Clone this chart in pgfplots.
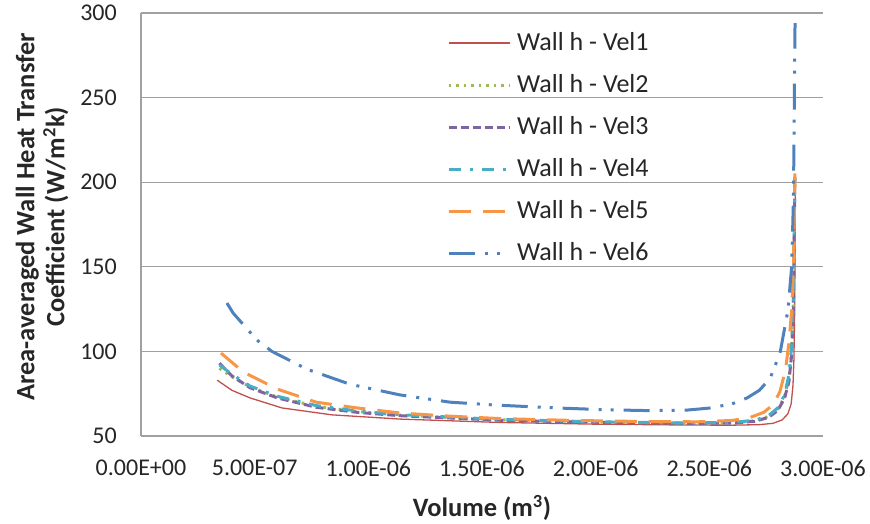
\documentclass[border=0pt]{standalone}
\usepackage{fontspec}
\setmainfont{Carlito}
\usepackage{pgfplots}
\pgfplotsset{compat=1.18}
\usepackage{pgfplotstable}
\definecolor{cRed}{HTML}{C0504D}
\definecolor{cGreen}{HTML}{9BBB59}
\definecolor{cPurple}{HTML}{8064A2}
\definecolor{cTeal}{HTML}{4BACC6}
\definecolor{cOrange}{HTML}{F79646}
\definecolor{cBlue}{HTML}{4F81BD}
\definecolor{gridgray}{HTML}{A0A0A0}
\definecolor{txt}{HTML}{262626}

% volume in units of 1e-6 m^3
\pgfplotstableread{
v h
0.335 83
0.40 77
0.48 72.5
0.62 66.6
0.84 62.5
1.14 60
1.58 58
2.0 57
2.4 56.5
2.6 56.4
2.72 56.7
2.78 57.5
2.82 59.5
2.845 63
2.86 69
2.868 80
2.872 95
2.875 120
2.877 160
2.878 195
}\velA
\pgfplotstableread{
v h
0.345 90
0.40 85
0.48 79
0.6 73
0.77 67.5
0.95 64.5
1.14 62.3
1.58 59.6
2.0 58.3
2.4 57.6
2.6 57.8
2.7 59
2.76 61.5
2.80 65.5
2.83 73
2.85 84
2.862 100
2.870 130
2.876 200
}\velB
\pgfplotstableread{
v h
0.345 93
0.40 85.5
0.48 78.5
0.6 72.5
0.77 67
0.95 64
1.14 62
1.58 59.3
2.0 58.1
2.4 57.5
2.6 57.6
2.7 58.7
2.76 61
2.80 65
2.83 72
2.85 82
2.862 98
2.870 128
2.876 203
}\velC
\pgfplotstableread{
v h
0.345 92
0.40 86.5
0.48 79.5
0.6 73.5
0.77 68
0.95 64.8
1.14 62.6
1.58 59.8
2.0 58.4
2.4 57.7
2.6 58
2.7 59.3
2.76 62
2.80 66.5
2.83 74
2.85 86
2.862 103
2.870 133
2.876 205
}\velD
\pgfplotstableread{
v h
0.352 99
0.45 87.8
0.6 77.7
0.77 70
0.95 66.6
1.14 63.6
1.35 61.8
1.58 60.3
1.9 59.2
2.2 58.6
2.45 58.4
2.6 59.2
2.68 61
2.74 64
2.78 68.5
2.81 76
2.835 89
2.85 105
2.862 124
2.870 150
2.877 208
}\velE
\pgfplotstableread{
v h
0.378 128.6
0.405 122.7
0.51 106.7
0.576 100
0.73 89.5
0.919 80.6
1.139 74.3
1.359 70
1.557 68.3
1.843 66.5
2.05 65.5
2.239 65
2.40 65.3
2.5 66.5
2.6 69
2.666 72.5
2.72 77
2.767 84
2.811 99
2.846 124.5
2.862 150
2.870 190
2.877 294
}\velF

\begin{document}
\begin{tikzpicture}
\useasboundingbox (0,0) rectangle (870pt,-523pt);
\begin{axis}[
  at={(141pt,-436pt)}, anchor=south west,
  scale only axis, width=682pt, height=423pt,
  xmin=0, xmax=3, ymin=50, ymax=300,
  xtick={0,0.5,1,1.5,2,2.5,3},
  xticklabels={0.00E+00,5.00E-07,1.00E-06,1.50E-06,2.00E-06,2.50E-06,3.00E-06},
  ytick={50,100,150,200,250,300},
  /pgf/number format/assume math mode=true,
  major tick length=0pt,
  axis line style={draw=none},
  ymajorgrids,
  grid style={gridgray, line width=1.2pt},
  extra x ticks={0}, extra x tick labels={},
  extra x tick style={xmajorgrids=true, grid style={gridgray, line width=1.2pt}},
  tick label style={font=\fontsize{24}{28}\selectfont, text=txt},
  xticklabel style={anchor=center, yshift=-32pt},
  yticklabel style={anchor=east, inner sep=0pt, xshift=-24pt},
  xlabel={Volume (m\textsuperscript{3})},
  ylabel={Area-averaged Wall Heat Transfer\\Coefficient (W/m\textsuperscript{2}k)},
  every axis x label/.style={at={(axis description cs:0.5,-0.170)}, anchor=center,
     font=\bfseries\fontsize{26.5}{30}\selectfont, text=txt},
  every axis y label/.style={at={(axis description cs:-0.145,0.518)}, anchor=center, rotate=90, align=center,
     font=\bfseries\fontsize{26.5}{30}\selectfont, text=txt},
  legend cell align=left,
  legend image code/.code={\draw[#1] (0pt,0pt) -- (61pt,0pt);},
  legend style={at={(axis description cs:0.449,0.962)}, anchor=north west,
    draw=none, fill=none, inner sep=0pt, outer sep=0pt,
    font=\fontsize{26}{30}\selectfont, text=txt, row sep=14pt,
    /tikz/every odd column/.append style={column sep=4pt},
    nodes={inner sep=2pt, text height=19pt, text depth=5pt}},
]
\addplot[cRed, line width=1.3pt] table[x=v,y=h]{\velA};
\addlegendentry{Wall h - Vel1}
\addplot[cGreen, line width=3pt, dash pattern=on 2.5pt off 5pt] table[x=v,y=h]{\velB};
\addlegendentry{Wall h - Vel2}
\addplot[cPurple, line width=3pt, dash pattern=on 8pt off 4pt] table[x=v,y=h]{\velC};
\addlegendentry{Wall h - Vel3}
\addplot[cTeal, line width=3pt, dash pattern=on 12pt off 9pt on 3pt off 9pt] table[x=v,y=h]{\velD};
\addlegendentry{Wall h - Vel4}
\addplot[cOrange, line width=3pt, dash pattern=on 22pt off 12pt] table[x=v,y=h]{\velE};
\addlegendentry{Wall h - Vel5}
\addplot[cBlue, line width=3pt, dash pattern=on 26pt off 10pt on 3pt off 9pt on 3pt off 10pt] table[x=v,y=h]{\velF};
\addlegendentry{Wall h - Vel6}
\end{axis}
\end{tikzpicture}
\end{document}
